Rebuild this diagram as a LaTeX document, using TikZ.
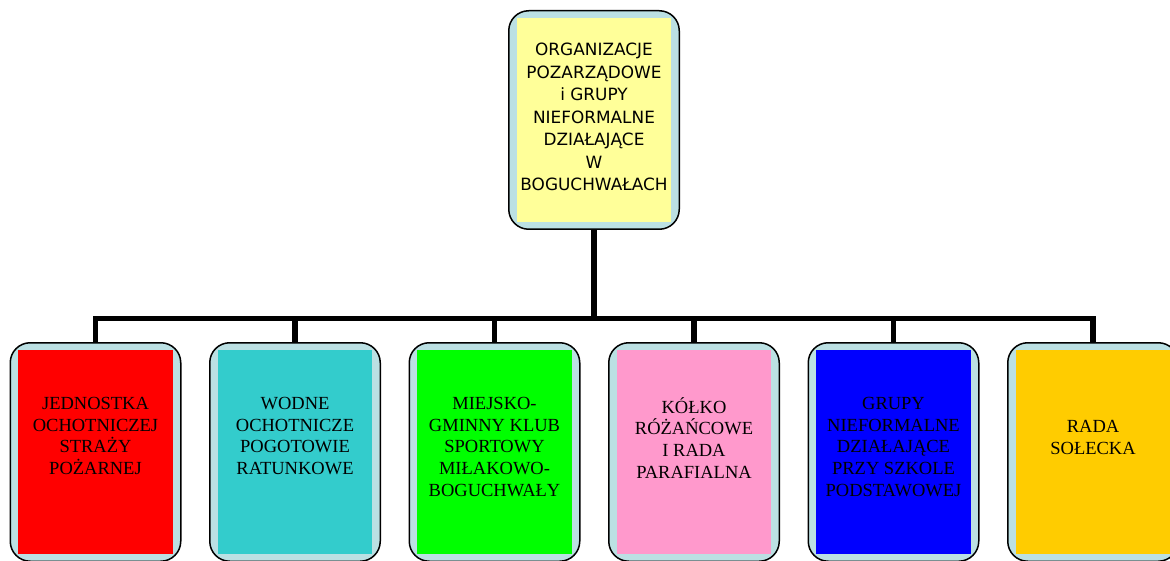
\documentclass[tikz,border=0pt]{standalone}
\usepackage{fontspec}
\setmainfont{Liberation Serif}
\newfontfamily\headfont{DejaVu Sans}
\usetikzlibrary{positioning}
\definecolor{rim}{RGB}{187,224,227}
\definecolor{headyellow}{RGB}{255,255,153}
\definecolor{tealbox}{RGB}{51,204,204}
\definecolor{pinkbox}{RGB}{255,153,204}
\definecolor{goldbox}{RGB}{255,204,0}

\begin{document}
\begin{tikzpicture}[x=1pt, y=1pt,
                orgbox/.style={draw, line width=1.5pt, fill=rim, rounded corners=20pt,
                    minimum width=170.5pt, minimum height=218.5pt, inner sep=0pt,
                    path picture={\fill[#1, sharp corners]
                        ([xshift=8pt, yshift=-7pt]path picture bounding box.north west) rectangle
                        ([xshift=-8pt, yshift=7pt]path picture bounding box.south east);}},
                orglabel/.style={align=center, inner sep=0pt, anchor=north,
                    font=\fontsize{18.5}{21.7}\selectfont,
                    execute at begin node={\rule{0pt}{18pt}}},
                headlabel/.style={align=center, inner sep=0pt, anchor=north,
                    font=\headfont\fontsize{16.9}{22.5}\selectfont, execute at begin node=\strut},
                link/.style={line width=5.5pt}]
                \useasboundingbox (0,0) rectangle (1170,-561);

                % Head box
                \node[orgbox=headyellow] (head) at (594,-120) {};
                \node[headlabel, below=33pt of head.north] (headtxt)
                    {ORGANIZACJE\\POZARZĄDOWE\\i GRUPY\\NIEFORMALNE\\DZIAŁAJĄCE\\W\\BOGUCHWAŁACH};

                % Member boxes - start with the first as anchor
                \node[orgbox=red] (osp) at (95.5,-452) {};
                \node[orgbox=tealbox, right=27.5pt of osp] (wopr) {};
                \node[orgbox=green, right=27.5pt of wopr] (klub) {};
                \node[orgbox=pinkbox, right=27.5pt of klub] (parafia) {};
                \node[orgbox=blue, right=27.5pt of parafia] (szkola) {};
                \node[orgbox=goldbox, right=27.5pt of szkola] (solectwo) {};

                % Labels
                \node[orglabel, below=55pt of osp.north] (osptxt)
                    {JEDNOSTKA\\OCHOTNICZEJ\\STRAŻY\\POŻARNEJ};
                \node[orglabel, below=55pt of wopr.north] (woprtxt)
                    {WODNE\\OCHOTNICZE\\POGOTOWIE\\RATUNKOWE};
                \node[orglabel, below=55pt of klub.north] (klubtxt)
                    {MIEJSKO-\\GMINNY KLUB\\SPORTOWY\\MIŁAKOWO-\\BOGUCHWAŁY};
                \node[orglabel, below=55pt of parafia.north] (parafiatxt)
                    {KÓŁKO\\RÓŻAŃCOWE\\I RADA\\PARAFIALNA};
                \node[orglabel, below=55pt of szkola.north] (szkolatxt)
                    {GRUPY\\NIEFORMALNE\\DZIAŁAJĄCE\\PRZY SZKOLE\\PODSTAWOWEJ};
                \node[orglabel, below=78pt of solectwo.north] (solectwotxt)
                    {RADA\\SOŁECKA};

                % Tree lines
                \coordinate (bar) at (0,-318.5);
                \draw[link] (head.south) -- (head.south |- bar);
                \draw[link] (osp.north) |- (bar -| solectwo.north) -- (solectwo.north);
                \foreach \b in {wopr, klub, parafia, szkola}
                    \draw[link] (\b.north) -- (\b.north |- bar);
            \end{tikzpicture}
\end{document}
